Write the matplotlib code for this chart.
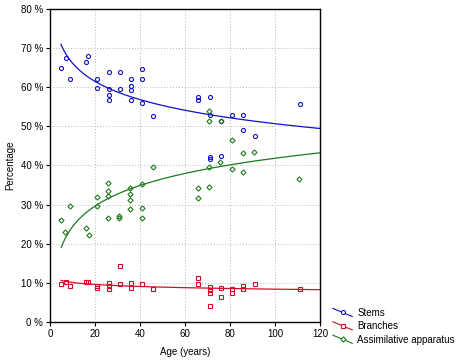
import numpy as np
import matplotlib.pyplot as plt
from matplotlib.legend_handler import HandlerLine2D
from matplotlib.lines import Line2D

# ages and percentages
stem_age = [4.9, 7.1, 8.9, 16, 16.9, 20.7, 20.7, 26.1, 26.1, 26.1, 26.1, 31, 31,
            36, 36, 36, 36, 40.7, 40.7, 40.7, 45.8, 65.6, 65.6, 71, 71, 75.9,
            80.7, 85.6, 85.6, 91.1, 111, 71, 71, 75.9]
stem_pct = [65.0, 67.6, 62.0, 66.5, 68.1, 62.1, 59.9, 63.8, 59.5, 58.1, 56.7, 64.0, 59.6,
            62.1, 60.4, 59.2, 56.7, 64.7, 62.1, 56.1, 52.7, 57.6, 56.8, 57.4, 52.9, 51.3,
            53.0, 53.0, 49.2, 47.6, 55.6, 42.3, 41.6, 42.5]

branch_age = [4.9, 7.1, 8.9, 15.9, 17, 20.9, 20.9, 26.1, 26.1, 26.1, 31, 31, 36, 36,
              40.9, 45.8, 65.8, 65.8, 71, 71, 71, 71, 75.9, 75.9, 80.7, 80.7, 85.8,
              85.8, 91.1, 111]
branch_pct = [9.8, 10.1, 9.3, 10.1, 10.2, 9.3, 8.8, 10.0, 9.3, 8.5, 14.4, 9.6, 10.0, 8.8,
              9.6, 8.5, 11.3, 9.8, 9.0, 8.3, 7.4, 4.1, 8.7, 6.4, 8.4, 7.4, 9.3,
              8.4, 9.7, 8.4]

assim_age = [5.0, 6.8, 9.0, 15.9, 17.2, 21, 21, 25.8, 25.8, 25.8, 25.8, 30.7, 30.7,
             35.6, 35.6, 35.6, 35.6, 40.9, 40.9, 40.9, 45.9, 70.8, 70.8, 75.9, 80.7,
             85.9, 90.8, 75.6, 70.8, 80.7, 85.9, 65.9, 70.8, 65.9, 110.8]
assim_pct = [26.0, 22.9, 29.6, 24.0, 22.2, 31.9, 29.6, 35.5, 33.6, 32.3, 26.5, 27.0, 26.5,
             34.2, 32.6, 31.1, 29.0, 29.1, 26.5, 35.2, 39.6, 53.9, 51.3, 51.3, 46.4,
             43.2, 43.5, 40.9, 39.6, 39.0, 38.3, 34.2, 34.4, 31.6, 36.5]

series = [
    ("Stems", stem_age, stem_pct, "#1010c8", "o"),
    ("Branches", branch_age, branch_pct, "#d0102a", "s"),
    ("Assimilative apparatus", assim_age, assim_pct, "#1d7a1d", "D"),
]


class SlantHandler(HandlerLine2D):
    # legend symbol drawn as a slanted line with the marker in the middle
    def create_artists(self, legend, orig_handle, xdescent, ydescent,
                       width, height, fontsize, trans):
        x0, x1 = -xdescent, -xdescent + width
        y0, y1 = -ydescent + height * 1.1, -ydescent - height * 0.1
        line = Line2D([x0, x1], [y0, y1], color=orig_handle.get_color(), lw=0.8)
        mark = Line2D([(x0 + x1) / 2], [(y0 + y1) / 2], ls="none",
                      marker=orig_handle.get_marker(),
                      markersize=orig_handle.get_markersize(),
                      mfc="white", mec=orig_handle.get_color(), mew=0.8)
        line.set_transform(trans)
        mark.set_transform(trans)
        return [line, mark]


plt.rcParams['font.family'] = ['Liberation Sans', 'DejaVu Sans']
fig = plt.figure(figsize=(4.67, 3.63), dpi=100)
ax = fig.add_axes([50 / 467, 41 / 363, 270 / 467, 313 / 363])

handles = []
for name, age, pct, col, mk in series:
    age = np.array(age)
    pct = np.array(pct)
    ms = 2.6 if mk == "D" else 2.9
    ax.plot(age, pct, ls="none", marker=mk, markersize=ms, mfc="none",
            mec=col, mew=0.8)
    # logarithmic trend fitted to the points
    k, b = np.polyfit(np.log(age), pct, 1)
    xs = np.linspace(age.min(), 120, 200)
    ax.plot(xs, k * np.log(xs) + b, color=col, lw=0.9)
    handles.append(Line2D([], [], color=col, marker=mk, markersize=ms, label=name))

ax.set_xlim(0, 120)
ax.set_ylim(0, 80)
ax.set_xticks(range(0, 121, 20))
ax.set_yticks(range(0, 81, 10))
ax.set_yticklabels([f"{v} %" for v in range(0, 81, 10)])
ax.grid(True, color="#b8b8b8", ls=(0, (1, 2)), lw=0.7)
ax.tick_params(labelsize=7, length=3, width=0.8, pad=2)
for s in ax.spines.values():
    s.set_linewidth(1.0)
ax.set_xlabel("Age (years)", fontsize=7, labelpad=6)
ax.set_ylabel("Percentage", fontsize=7, labelpad=4)

fig.legend(handles=handles, loc="upper left", bbox_to_anchor=(328 / 467, 1 - 303 / 363),
           frameon=False, fontsize=7, handlelength=2.0, handletextpad=0.5,
           labelspacing=0.35, borderpad=0, handler_map={Line2D: SlantHandler()})

fig.savefig("out.png", dpi=100)
